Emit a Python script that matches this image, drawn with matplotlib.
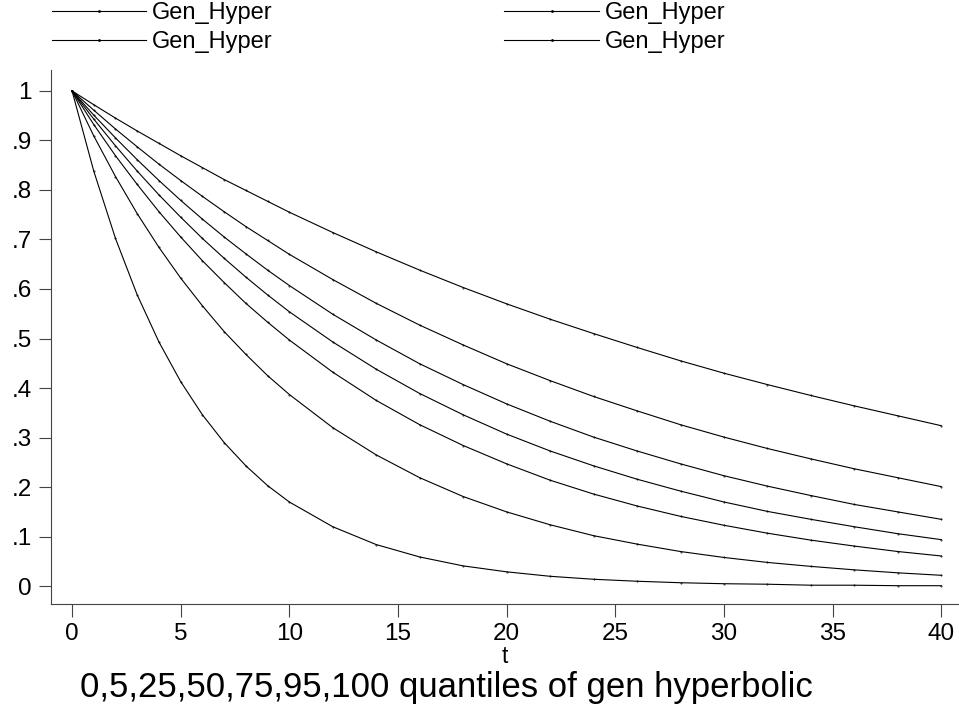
import matplotlib
matplotlib.use("Agg")
import matplotlib.pyplot as plt

plt.rcParams['font.family'] = ['Liberation Sans', 'DejaVu Sans']

# time points (years)
t = [0, 1, 2, 3, 4, 5, 6, 7, 8, 9, 10, 12, 14, 16, 18, 20, 22, 24, 26, 28, 30, 32, 34, 36, 38, 40]

# discount curves, top curve first
q100 = [1.000, 0.972, 0.945, 0.919, 0.894, 0.869, 0.845, 0.821, 0.799, 0.777, 0.755,
        0.714, 0.675, 0.638, 0.603, 0.570, 0.539, 0.510, 0.482, 0.455, 0.430,
        0.407, 0.385, 0.364, 0.344, 0.324]
q95 = [1.000, 0.961, 0.923, 0.887, 0.852, 0.819, 0.787, 0.756, 0.726, 0.698, 0.670,
       0.619, 0.571, 0.527, 0.487, 0.449, 0.415, 0.383, 0.354, 0.326, 0.301,
       0.278, 0.257, 0.237, 0.219, 0.201]
q75 = [1.000, 0.951, 0.905, 0.861, 0.819, 0.779, 0.741, 0.705, 0.671, 0.638, 0.607,
       0.549, 0.497, 0.449, 0.407, 0.368, 0.333, 0.301, 0.273, 0.247, 0.223,
       0.202, 0.183, 0.165, 0.150, 0.135]
q50 = [1.000, 0.943, 0.889, 0.838, 0.790, 0.745, 0.702, 0.662, 0.624, 0.588, 0.554,
       0.493, 0.438, 0.389, 0.346, 0.307, 0.273, 0.243, 0.216, 0.192, 0.170,
       0.151, 0.135, 0.120, 0.106, 0.094]
q25 = [1.000, 0.932, 0.869, 0.811, 0.756, 0.705, 0.657, 0.613, 0.571, 0.533, 0.497,
       0.432, 0.375, 0.326, 0.284, 0.247, 0.214, 0.186, 0.162, 0.141, 0.123,
       0.107, 0.093, 0.081, 0.070, 0.061]
q5 = [1.000, 0.909, 0.827, 0.752, 0.684, 0.622, 0.566, 0.514, 0.468, 0.425, 0.387,
      0.320, 0.265, 0.219, 0.181, 0.150, 0.124, 0.102, 0.085, 0.070, 0.058,
      0.048, 0.040, 0.033, 0.027, 0.022]
q0 = [1.000, 0.838, 0.702, 0.588, 0.493, 0.413, 0.346, 0.290, 0.243, 0.203, 0.170,
      0.120, 0.084, 0.059, 0.041, 0.029, 0.020, 0.014, 0.010, 0.007, 0.005,
      0.004, 0.002, 0.002, 0.001, 0.001]

curves = [q100, q95, q75, q50, q25, q5, q0]
label = "Gen_Hyper"
xticks = list(range(0, 41, 5))
yticks = [0, .1, .2, .3, .4, .5, .6, .7, .8, .9, 1]
ytick_labels = ["0", ".1", ".2", ".3", ".4", ".5", ".6", ".7", ".8", ".9", "1"]

fig = plt.figure(figsize=(9.59, 7.04), dpi=100)
ax = fig.add_axes([0.0532, 0.142, 0.946, 0.7585])

lines = []
for y in curves:
    ln, = ax.plot(t, y, color='black', linewidth=0.8, marker='.', markersize=0.8)
    lines.append(ln)

ax.set_xlim(-0.967, 40.78)
ax.set_ylim(-0.036, 1.042)
ax.set_xticks(xticks)
ax.set_yticks(yticks)
ax.set_yticklabels(ytick_labels)
ax.tick_params(axis='both', direction='out', length=9, width=0.8, color='#444444',
               labelsize=17.5)
ax.tick_params(axis='x', pad=4.5)
ax.tick_params(axis='y', pad=5)
for s in ['top', 'right']:
    ax.spines[s].set_visible(False)
for s in ['left', 'bottom']:
    ax.spines[s].set_color('#444444')
    ax.spines[s].set_linewidth(0.8)
ax.set_xlabel("t", fontsize=16.5, labelpad=0.5)

fig.legend(lines[:4], [label] * 4, ncol=2, loc='upper left',
           bbox_to_anchor=(52 / 959, 1 - 2 / 704), frameon=False, fontsize=17,
           handlelength=4.0, handletextpad=0.25, columnspacing=9.8,
           labelspacing=0.3, borderpad=0, borderaxespad=0, markerscale=2.5)

fig.text(80 / 959, 1 - 687 / 704, "0,5,25,50,75,95,100 quantiles of gen hyperbolic",
         fontsize=25, ha='left', va='center')

fig.savefig("out.png", dpi=100)
